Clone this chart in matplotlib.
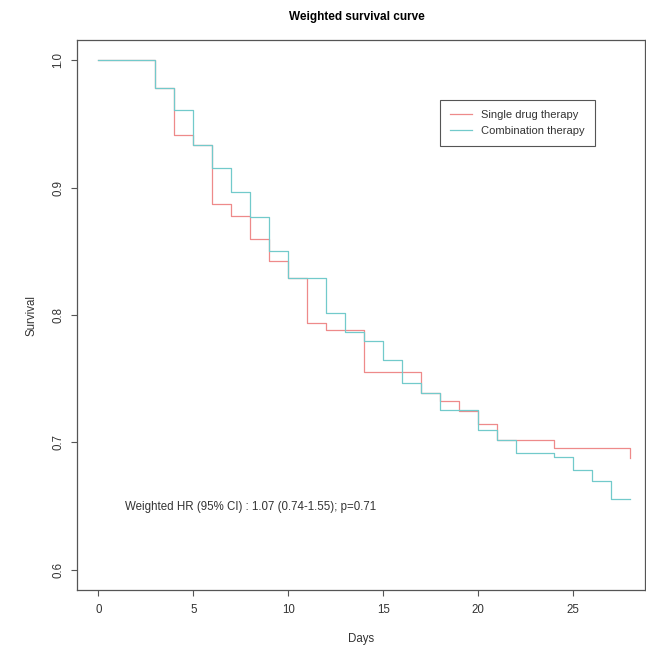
import matplotlib
matplotlib.use("Agg")
import matplotlib.pyplot as plt

plt.rcParams['font.family'] = ['Liberation Sans', 'DejaVu Sans']

# Data
days = [0, 3, 4, 5, 6, 7, 8, 9, 10, 11, 12, 13, 14, 15, 16, 17, 18, 19, 20, 21, 22, 24, 25, 26, 27, 28]
single_drug = [1.0, 0.978, 0.9416, 0.9337, 0.8875, 0.878, 0.860, 0.8426, 0.8287, 0.7938, 0.7885, 0.7885,
               0.7555, 0.7555, 0.7555, 0.7384, 0.7325, 0.7244, 0.7146, 0.7022, 0.7022, 0.6956, 0.6956,
               0.6956, 0.6956, 0.688]
combination = [1.0, 0.978, 0.961, 0.9337, 0.9158, 0.8968, 0.877, 0.8505, 0.8287, 0.8287, 0.8017, 0.787,
               0.7793, 0.7648, 0.7468, 0.7384, 0.7257, 0.7257, 0.710, 0.7022, 0.6914, 0.6882, 0.6782,
               0.6698, 0.6553, 0.6553]
series_labels = ["Single drug therapy", "Combination therapy"]
x_ticks = [0, 5, 10, 15, 20, 25]
y_ticks = [0.6, 0.7, 0.8, 0.9, 1.0]
title = "Weighted survival curve"
annotation = "Weighted HR (95% CI) : 1.07 (0.74-1.55); p=0.71"

W, H = 646, 647
fig = plt.figure(figsize=(W / 100, H / 100), dpi=100)
left_px, right_px, top_px, bottom_px = 77, 645, 40, 590
ax = fig.add_axes([left_px / W, 1 - bottom_px / H, (right_px - left_px) / W, (bottom_px - top_px) / H])

red = '#EE8A8A'
teal = '#72CACB'
ax.step(days, single_drug, where='post', color=red, lw=0.9, label=series_labels[0])
ax.step(days, combination, where='post', color=teal, lw=0.9, label=series_labels[1])

ax.set_xlim(-1.12, 28.78)
ax.set_ylim(0.584, 1.016)
ax.set_xticks(x_ticks)
ax.set_xticklabels([str(t) for t in x_ticks])
ax.set_yticks(y_ticks)
ax.set_yticklabels([f"{t:.1f}" for t in y_ticks], rotation=90, va='center')

for s in ax.spines.values():
    s.set_color('#555555')
    s.set_linewidth(0.9)
ax.tick_params(axis='both', direction='out', length=4, width=0.8, color='#555555',
               labelsize=8.3, labelcolor='#333333')
ax.tick_params(axis='x', pad=6)
ax.tick_params(axis='y', pad=5)

ax.set_xlabel("Days", fontsize=8.3, color='#333333', labelpad=12)
ax.set_ylabel("Survival", fontsize=8.3, color='#333333', labelpad=11)
fig.text(357 / W, 1 - 17 / H, title, ha='center', va='center', fontsize=8.5, fontweight='bold')

ax.text(8.0, 0.6495, annotation, ha='center', va='center', fontsize=8.3, color='#333333')

leg = ax.legend(loc='upper left', bbox_to_anchor=(440 / W, 1 - 100 / H), bbox_transform=fig.transFigure,
                fontsize=8.0, frameon=True, fancybox=False, edgecolor='#555555', framealpha=1,
                handlelength=2.0, handletextpad=0.8, borderpad=0.9, labelspacing=0.55, borderaxespad=0)
leg.get_frame().set_linewidth(0.8)
for t in leg.get_texts():
    t.set_color('#333333')

fig.savefig("out.png", dpi=100)
